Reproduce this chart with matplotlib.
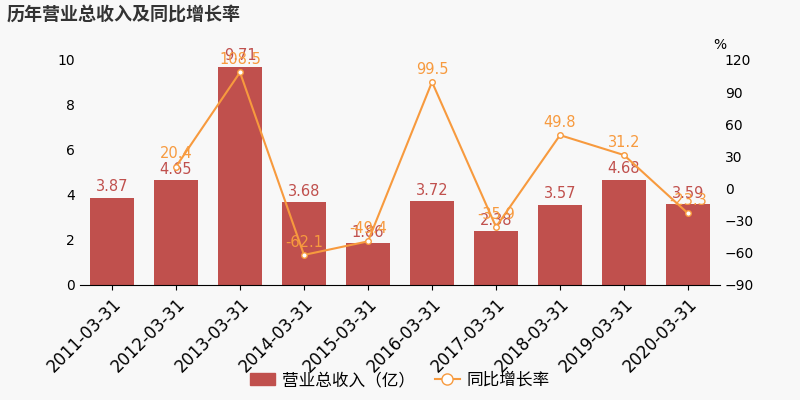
import matplotlib
matplotlib.use("Agg")
import matplotlib.pyplot as plt
import numpy as np
from matplotlib.lines import Line2D
from matplotlib.patches import Patch

plt.rcParams['font.family'] = ['DejaVu Sans', 'Noto Sans CJK SC']

dates = ["2011-03-31","2012-03-31","2013-03-31","2014-03-31","2015-03-31",
         "2016-03-31","2017-03-31","2018-03-31","2019-03-31","2020-03-31"]
revenue = [3.87, 4.65, 9.71, 3.68, 1.86, 3.72, 2.38, 3.57, 4.68, 3.59]
growth = [None, 20.4, 108.5, -62.1, -49.4, 99.5, -35.9, 49.8, 31.2, -23.3]

bar_c = "#c0504d"
line_c = "#f79a3e"
fig = plt.figure(figsize=(8, 4), dpi=100, facecolor="#f8f8f8")
ax = fig.add_axes([0.1, 0.288, 0.8, 0.562])
ax.set_facecolor("#f8f8f8")
x = np.arange(len(dates))
ax.bar(x, revenue, width=0.7, color=bar_c)
for xi, v in zip(x, revenue):
    ax.text(xi, v + 0.15, f"{v:.2f}", ha="center", va="bottom", color=bar_c, fontsize=10.5)
ax.set_ylim(0, 10)
ax.set_yticks(range(0, 11, 2))
ax.set_xlim(-0.5, len(dates) - 0.5)
ax.set_xticks(x)
ax.set_xticklabels(dates, rotation=45, ha="right", rotation_mode="anchor", fontsize=12)
for s in ["top", "right", "left"]:
    ax.spines[s].set_visible(False)
ax.tick_params(axis="y", length=0, labelsize=10)

ax2 = ax.twinx()
gx = [xi for xi, g in zip(x, growth) if g is not None]
gy = [g for g in growth if g is not None]
ax2.plot(gx, gy, color=line_c, lw=1.5, marker="o", ms=4, mfc="white", mec=line_c)
for xi, g in zip(gx, gy):
    ax2.text(xi, g + 5, f"{g}", ha="center", va="bottom", color=line_c, fontsize=10.5)
ax2.set_ylim(-90, 120)
ax2.set_yticks(range(-90, 121, 30))
for s in ["top", "right", "left", "bottom"]:
    ax2.spines[s].set_visible(False)
ax2.tick_params(axis="y", length=0, labelsize=10)
ax2.text(1.0, 1.05, "%", transform=ax2.transAxes, ha="center", fontsize=10)

fig.text(0.008, 0.965, "历年营业总收入及同比增长率", fontsize=13, fontweight="bold",
         color="#333333", va="center", family=['Noto Sans CJK SC', 'DejaVu Sans'])
handles = [Patch(color=bar_c), Line2D([], [], color=line_c, marker="o", mfc="white", ms=8)]
fig.legend(handles, ["营业总收入（亿）", "同比增长率"], loc="lower center", ncol=2,
           frameon=False, fontsize=12, bbox_to_anchor=(0.5, -0.01),
           handlelength=1.5, handletextpad=0.4, columnspacing=1.2,
           prop={'family': ['Noto Sans CJK SC', 'DejaVu Sans'], 'size': 12})
fig.savefig("out.png", facecolor=fig.get_facecolor())
